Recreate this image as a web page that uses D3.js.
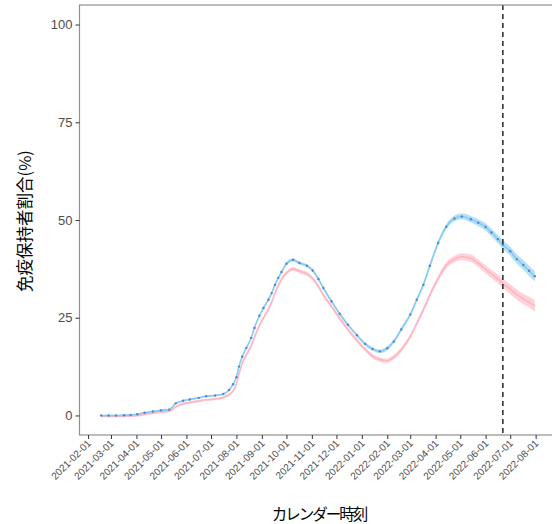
<!DOCTYPE html>
<html><head><meta charset="utf-8">
<script src="https://cdn.jsdelivr.net/npm/d3@7"></script>
<style>body{margin:0;background:#fff}svg{display:block}</style>
</head><body>
<script>
const dates = ["2021-02-17","2021-02-26","2021-03-07","2021-03-17","2021-03-25","2021-04-02","2021-04-11","2021-04-21","2021-05-01","2021-05-11","2021-05-19","2021-05-28","2021-06-05","2021-06-16","2021-06-25","2021-07-06","2021-07-16","2021-07-23","2021-07-28","2021-08-01","2021-08-04","2021-08-08","2021-08-13","2021-08-19","2021-08-23","2021-08-29","2021-09-03","2021-09-09","2021-09-13","2021-09-17","2021-09-21","2021-09-25","2021-10-01","2021-10-09","2021-10-17","2021-10-26","2021-11-02","2021-11-09","2021-11-15","2021-11-25","2021-12-05","2021-12-15","2021-12-26","2022-01-05","2022-01-14","2022-01-23","2022-02-01","2022-02-09","2022-02-18","2022-03-01","2022-03-09","2022-03-17","2022-03-25","2022-04-04","2022-04-14","2022-04-24","2022-05-03","2022-05-14","2022-05-23","2022-06-01","2022-06-08","2022-06-16","2022-06-22","2022-07-01","2022-07-09","2022-07-17","2022-07-24","2022-07-31"];
const blueValues = [0,0,0,0.05,0.1,0.3,0.7,1.0,1.3,1.5,3.1,3.75,4.1,4.5,4.9,5.1,5.5,6.5,8.0,9.8,12.5,15.0,17.3,19.8,22.4,25.5,27.5,29.6,31.3,33.4,35.2,36.7,38.8,39.8,39.0,38.3,37.1,34.9,32.6,29.2,26.0,23.2,20.5,18.3,17.0,16.4,17.2,18.9,22.0,25.8,29.6,33.4,38.3,44.1,48.3,50.4,50.9,50.2,49.3,48.2,46.8,45.1,43.7,42.0,40.0,38.5,37.0,35.6];
const blueBand = [0.2,0.2,0.2,0.2,0.2,0.2,0.2,0.2,0.2,0.2,0.2,0.2,0.2,0.2,0.2,0.2,0.2,0.25,0.25,0.3,0.3,0.3,0.3,0.3,0.3,0.35,0.35,0.35,0.35,0.4,0.4,0.4,0.4,0.4,0.4,0.4,0.4,0.4,0.4,0.4,0.4,0.4,0.4,0.45,0.45,0.45,0.5,0.5,0.5,0.5,0.5,0.55,0.6,0.65,0.7,0.75,0.8,0.85,0.9,0.95,1.0,1.05,1.1,1.15,1.2,1.25,1.3,1.35];
const pinkValues = [-0.2,-0.2,-0.2,-0.15,-0.1,0,0.3,0.6,0.9,1.1,2.2,3.0,3.3,3.7,4.0,4.2,4.6,5.3,6.3,8.0,10.5,13.3,15.5,17.8,20.0,23.0,25.0,27.2,29.0,31.3,33.2,34.8,36.4,37.5,36.9,36.2,35.0,33.0,30.8,27.9,24.8,22.0,19.2,16.9,15.2,14.3,14.0,14.9,16.8,20.2,23.5,27.0,30.8,35.0,38.4,40.0,40.6,40.2,38.9,37.4,36.2,34.9,33.8,32.3,30.9,29.8,29.0,28.0];
const pinkBand = [0.3,0.3,0.3,0.3,0.3,0.3,0.3,0.3,0.3,0.3,0.3,0.3,0.3,0.3,0.3,0.3,0.3,0.35,0.35,0.4,0.4,0.4,0.4,0.45,0.45,0.45,0.45,0.5,0.5,0.5,0.5,0.5,0.5,0.5,0.5,0.5,0.5,0.5,0.5,0.5,0.5,0.5,0.5,0.55,0.55,0.55,0.55,0.6,0.6,0.6,0.6,0.65,0.7,0.75,0.8,0.85,0.9,0.95,1.0,1.05,1.1,1.15,1.2,1.25,1.3,1.35,1.4,1.5];
const xTickLabels = ["2021-02-01","2021-03-01","2021-04-01","2021-05-01","2021-06-01","2021-07-01","2021-08-01","2021-09-01","2021-10-01","2021-11-01","2021-12-01","2022-01-01","2022-02-01","2022-03-01","2022-04-01","2022-05-01","2022-06-01","2022-07-01","2022-08-01"];
const yTicks = [0,25,50,75,100];
const cutoffDate = "2022-06-22";
const xTitle = "カレンダー時刻";
const yTitle = "免疫保持者割合(%)";

const W = 552, H = 524;
const panel = {left: 79.5, right: 556.5, top: 5, bottom: 435};
const parse = d3.timeParse("%Y-%m-%d");
const data = dates.map((d,i)=>({date: parse(d), b: blueValues[i], bb: blueBand[i], p: pinkValues[i], pb: pinkBand[i]}));

const dMin = d3.min(data, d=>d.date), dMax = d3.max(data, d=>d.date);
const span = dMax - dMin;
const x = d3.scaleTime().domain([new Date(+dMin - span*0.05), new Date(+dMax + span*0.05)]).range([panel.left, panel.right]);
const y = d3.scaleLinear().domain([-5, 105]).range([panel.bottom, panel.top]);

const svg = d3.select("body").append("svg").attr("width", W).attr("height", H);

const g = svg.append("g");
const curve = d3.curveMonotoneX;

// ribbons
g.append("path").datum(data)
  .attr("d", d3.area().curve(curve).x(d=>x(d.date)).y0(d=>y(d.p - d.pb)).y1(d=>y(d.p + d.pb)))
  .attr("fill", "#ffb6c1").attr("opacity", 0.6);
g.append("path").datum(data)
  .attr("d", d3.area().curve(curve).x(d=>x(d.date)).y0(d=>y(d.b - d.bb)).y1(d=>y(d.b + d.bb)))
  .attr("fill", "#87ceeb").attr("opacity", 0.6);

// lines
g.append("path").datum(data)
  .attr("d", d3.line().curve(curve).x(d=>x(d.date)).y(d=>y(d.p)))
  .attr("fill", "none").attr("stroke", "#ffb6c1").attr("stroke-width", 1.6);
g.append("path").datum(data)
  .attr("d", d3.line().curve(curve).x(d=>x(d.date)).y(d=>y(d.b)))
  .attr("fill", "none").attr("stroke", "#87ceeb").attr("stroke-width", 1.6);

// points
g.selectAll("circle.pt").data(data).join("circle").attr("class","pt")
  .attr("cx", d=>x(d.date)).attr("cy", d=>y(d.b)).attr("r", 1.2)
  .attr("fill", "#5580ea");

// cutoff
g.append("line")
  .attr("x1", x(parse(cutoffDate))).attr("x2", x(parse(cutoffDate)))
  .attr("y1", panel.top).attr("y2", panel.bottom)
  .attr("stroke", "#333").attr("stroke-width", 1.6).attr("stroke-dasharray", "5,4");

// panel border
svg.append("rect").attr("x", panel.left).attr("y", panel.top)
  .attr("width", panel.right - panel.left).attr("height", panel.bottom - panel.top)
  .attr("fill", "none").attr("stroke", "#8f8f8f").attr("stroke-width", 1.2);

// y axis
const yAxis = svg.append("g").attr("transform", `translate(${panel.left},0)`)
  .call(d3.axisLeft(y).tickValues(yTicks).tickSize(4).tickPadding(3));
yAxis.select(".domain").remove();
yAxis.selectAll("line").attr("stroke", "#333");
yAxis.selectAll("text").attr("fill", "#4d4d4d").style("font-family", "Liberation Sans, Arial, sans-serif").style("font-size", "13px");

// x axis
const xAxis = svg.append("g").attr("transform", `translate(0,${panel.bottom})`)
  .call(d3.axisBottom(x).tickValues(xTickLabels.map(parse)).tickFormat(d3.timeFormat("%Y-%m-%d")).tickSize(4).tickPadding(2));
xAxis.select(".domain").remove();
xAxis.selectAll("line").attr("stroke", "#333");
xAxis.selectAll("text").attr("fill", "#4d4d4d")
  .style("font-family", "Liberation Sans, Arial, sans-serif").style("font-size", "10px")
  .attr("text-anchor", "end").attr("dy", null).attr("y", 0)
  .attr("transform", "translate(3,9) rotate(-45)");

// titles
svg.append("text").attr("x", (panel.left + panel.right)/2 + 1).attr("y", 520)
  .attr("text-anchor", "middle").attr("fill", "#000")
  .style("font-family", "Noto Sans CJK JP, sans-serif").style("font-size", "15.5px")
  .style("letter-spacing", "-2px").text(xTitle);
svg.append("text").attr("transform", `translate(31,${(panel.top + panel.bottom)/2 + 1}) rotate(-90)`)
  .attr("text-anchor", "middle").attr("fill", "#000")
  .style("font-family", "Noto Sans CJK JP, sans-serif").style("font-size", "16.5px").text(yTitle);
</script>
</body></html>
